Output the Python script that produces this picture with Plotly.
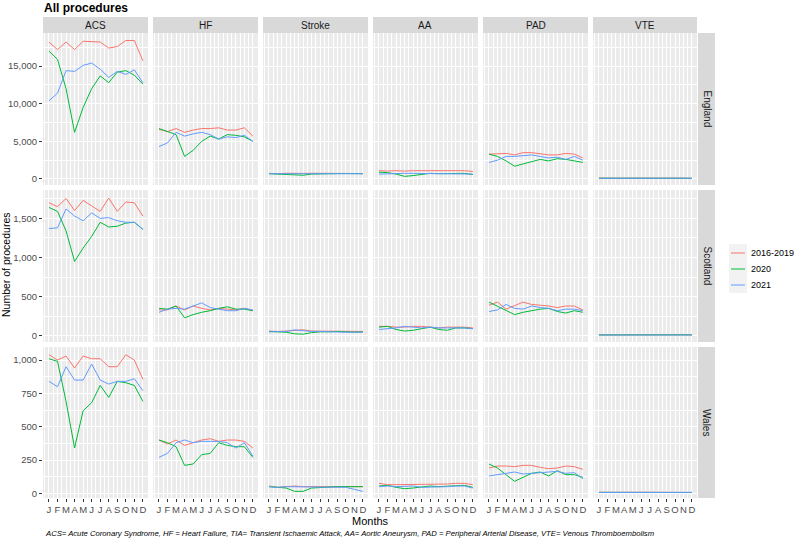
import plotly.graph_objects as go

W, H = 794, 539

months = list(range(1, 13))
month_labels = ["J", "F", "M", "A", "M", "J", "J", "A", "S", "O", "N", "D"]
procedures = ["ACS", "HF", "Stroke", "AA", "PAD", "VTE"]
countries = ["England", "Scotland", "Wales"]
series_names = ["2016-2019", "2020", "2021"]
series_colors = ["#F8766D", "#00BA38", "#619CFF"]

# ---------------- England ----------------
eng_acs_1619 = [18200, 17200, 18200, 17200, 18300, 18200, 18200, 17400, 17600, 18400, 18400, 15700]
eng_acs_2020 = [17000, 15900, 12000, 6200, 9500, 12000, 13700, 12800, 14200, 14400, 13800, 12600]
eng_acs_2021 = [10400, 11400, 14400, 14300, 15100, 15400, 14600, 13500, 14300, 13900, 14500, 12800]
eng_hf_1619 = [6600, 6300, 6700, 6200, 6500, 6700, 6700, 6800, 6500, 6500, 6800, 5700]
eng_hf_2020 = [6700, 6300, 5900, 3000, 3800, 5000, 5700, 5300, 5900, 5800, 5600, 5000]
eng_hf_2021 = [4300, 4800, 6200, 5700, 6000, 6200, 5900, 5300, 5600, 5500, 5800, 5000]
eng_stroke_1619 = [750, 700, 760, 720, 740, 760, 750, 740, 750, 760, 750, 720]
eng_stroke_2020 = [700, 650, 600, 450, 500, 650, 700, 720, 720, 730, 720, 700]
eng_stroke_2021 = [700, 700, 720, 700, 720, 720, 720, 730, 730, 720, 720, 700]
eng_aa_1619 = [1100, 1050, 1100, 1050, 1100, 1100, 1100, 1050, 1050, 1100, 1100, 1000]
eng_aa_2020 = [900, 850, 650, 350, 450, 650, 750, 700, 750, 700, 750, 600]
eng_aa_2021 = [650, 700, 750, 750, 750, 750, 700, 700, 750, 700, 750, 650]
eng_pad_1619 = [3300, 3300, 3400, 3200, 3500, 3500, 3300, 3200, 3200, 3400, 3300, 2800]
eng_pad_2020 = [3300, 3000, 2400, 1700, 2000, 2300, 2600, 2400, 2700, 2600, 2400, 2200]
eng_pad_2021 = [2200, 2500, 3000, 3000, 3100, 3200, 3000, 2800, 2900, 2600, 3000, 2500]
eng_vte_1619 = [110, 100, 110, 100, 110, 110, 110, 100, 100, 110, 110, 90]
eng_vte_2020 = [100, 100, 90, 60, 70, 90, 100, 100, 100, 100, 100, 90]
eng_vte_2021 = [90, 100, 100, 100, 100, 100, 100, 100, 100, 100, 100, 90]

# ---------------- Scotland ----------------
sco_acs_1619 = [1700, 1650, 1755, 1600, 1730, 1660, 1590, 1760, 1590, 1710, 1700, 1530]
sco_acs_2020 = [1640, 1590, 1340, 950, 1120, 1270, 1450, 1390, 1400, 1440, 1450, 1360]
sco_acs_2021 = [1370, 1380, 1620, 1530, 1470, 1570, 1500, 1510, 1470, 1450, 1450, 1360]
sco_hf_1619 = [330, 330, 380, 330, 380, 350, 330, 350, 340, 330, 350, 320]
sco_hf_2020 = [350, 340, 380, 230, 270, 300, 320, 350, 370, 340, 340, 320]
sco_hf_2021 = [300, 340, 350, 340, 380, 420, 360, 340, 320, 320, 350, 330]
sco_stroke_1619 = [60, 55, 60, 70, 75, 60, 60, 55, 55, 60, 60, 55]
sco_stroke_2020 = [55, 50, 45, 25, 20, 40, 50, 50, 55, 50, 45, 50]
sco_stroke_2021 = [50, 50, 55, 75, 65, 55, 55, 50, 50, 45, 45, 45]
sco_aa_1619 = [120, 120, 110, 110, 120, 120, 110, 100, 110, 110, 110, 100]
sco_aa_2020 = [110, 120, 80, 60, 70, 90, 110, 80, 70, 100, 100, 90]
sco_aa_2021 = [80, 90, 100, 120, 110, 100, 110, 100, 100, 100, 100, 90]
sco_pad_1619 = [390, 430, 340, 380, 430, 400, 390, 380, 360, 380, 380, 330]
sco_pad_2020 = [430, 380, 330, 270, 300, 320, 340, 350, 310, 290, 320, 300]
sco_pad_2021 = [310, 330, 400, 350, 340, 380, 360, 350, 320, 340, 340, 320]
sco_vte_1619 = [12, 10, 12, 10, 12, 12, 10, 10, 12, 12, 12, 10]
sco_vte_2020 = [10, 10, 8, 5, 5, 8, 10, 10, 10, 10, 12, 12]
sco_vte_2021 = [10, 12, 10, 10, 10, 10, 10, 10, 10, 10, 10, 10]

# ---------------- Wales ----------------
wal_acs_1619 = [1040, 1000, 1030, 940, 1030, 1010, 1010, 950, 950, 1040, 1000, 855]
wal_acs_2020 = [1010, 990, 690, 340, 620, 680, 810, 720, 840, 830, 810, 690]
wal_acs_2021 = [840, 800, 950, 850, 850, 970, 850, 820, 840, 840, 860, 770]
wal_hf_1619 = [400, 370, 400, 360, 380, 400, 410, 390, 400, 400, 390, 340]
wal_hf_2020 = [400, 380, 350, 210, 220, 290, 300, 380, 360, 350, 350, 270]
wal_hf_2021 = [270, 300, 380, 400, 380, 390, 390, 390, 380, 340, 380, 280]
wal_stroke_1619 = [55, 45, 50, 55, 50, 50, 50, 50, 55, 50, 50, 50]
wal_stroke_2020 = [50, 45, 40, 15, 15, 40, 45, 45, 50, 50, 50, 50]
wal_stroke_2021 = [50, 45, 50, 50, 50, 45, 50, 50, 50, 45, 30, 15]
wal_aa_1619 = [75, 65, 65, 65, 65, 70, 70, 70, 70, 75, 75, 65]
wal_aa_2020 = [55, 60, 45, 35, 40, 50, 55, 50, 55, 55, 60, 45]
wal_aa_2021 = [50, 55, 50, 50, 55, 45, 45, 50, 50, 55, 55, 40]
wal_pad_1619 = [190, 205, 205, 200, 210, 210, 195, 185, 190, 205, 200, 180]
wal_pad_2020 = [220, 190, 140, 90, 120, 150, 160, 130, 170, 140, 140, 120]
wal_pad_2021 = [130, 140, 155, 160, 145, 150, 150, 160, 165, 150, 155, 110]
wal_vte_1619 = [8, 7, 8, 7, 8, 8, 8, 7, 8, 8, 8, 7]
wal_vte_2020 = [7, 7, 6, 4, 5, 6, 7, 7, 7, 7, 7, 6]
wal_vte_2021 = [7, 7, 7, 7, 7, 7, 7, 7, 7, 7, 7, 7]

# y-axis settings per row (free scales per country)
row_ranges = [[-800, 19400], [-80, 1863], [-35, 1098]]
row_dtick = [5000, 500, 250]

data = {
    "England": [
        [eng_acs_1619, eng_acs_2020, eng_acs_2021],
        [eng_hf_1619, eng_hf_2020, eng_hf_2021],
        [eng_stroke_1619, eng_stroke_2020, eng_stroke_2021],
        [eng_aa_1619, eng_aa_2020, eng_aa_2021],
        [eng_pad_1619, eng_pad_2020, eng_pad_2021],
        [eng_vte_1619, eng_vte_2020, eng_vte_2021],
    ],
    "Scotland": [
        [sco_acs_1619, sco_acs_2020, sco_acs_2021],
        [sco_hf_1619, sco_hf_2020, sco_hf_2021],
        [sco_stroke_1619, sco_stroke_2020, sco_stroke_2021],
        [sco_aa_1619, sco_aa_2020, sco_aa_2021],
        [sco_pad_1619, sco_pad_2020, sco_pad_2021],
        [sco_vte_1619, sco_vte_2020, sco_vte_2021],
    ],
    "Wales": [
        [wal_acs_1619, wal_acs_2020, wal_acs_2021],
        [wal_hf_1619, wal_hf_2020, wal_hf_2021],
        [wal_stroke_1619, wal_stroke_2020, wal_stroke_2021],
        [wal_aa_1619, wal_aa_2020, wal_aa_2021],
        [wal_pad_1619, wal_pad_2020, wal_pad_2021],
        [wal_vte_1619, wal_vte_2020, wal_vte_2021],
    ],
}

# pixel layout of the facet grid
col_px = [(43, 148), (153, 258), (263, 368), (373, 478), (483, 588), (593, 697)]
row_px = [(33, 185), (190, 342), (347, 498)]
strip_top = 17
row_strip = (698, 715)

FONT = "Liberation Sans, Arial, sans-serif"
fig = go.Figure()
layout = {}
shapes = []
annotations = []

def px_x(x):
    return x / W

def px_y(y):
    return 1 - y / H

for r, country in enumerate(countries):
    for c, proc in enumerate(procedures):
        k = r * 6 + c + 1
        xa = "x" if k == 1 else f"x{k}"
        ya = "y" if k == 1 else f"y{k}"
        for s in range(3):
            fig.add_trace(go.Scatter(
                x=months, y=data[country][c][s], mode="lines",
                line=dict(color=series_colors[s], width=1),
                name=series_names[s], legendgroup=series_names[s],
                showlegend=False, xaxis=xa, yaxis=ya,
                hovertemplate=f"{country} {proc}<br>%{{x}}: %{{y}}<extra>{series_names[s]}</extra>",
            ))
        x0, x1 = col_px[c]
        y0, y1 = row_px[r]
        bottom = (r == 2)
        left = (c == 0)
        layout["xaxis" if k == 1 else f"xaxis{k}"] = dict(
            domain=[px_x(x0), px_x(x1)], anchor=ya, range=[0.3, 12.6],
            tickmode="array", tickvals=months, ticktext=month_labels, tickangle=0,
            showticklabels=bottom, ticks="outside" if bottom else "",
            ticklen=3, tickcolor="#333333", tickwidth=1,
            tickfont=dict(size=9.5, color="#4D4D4D", family=FONT),
            showgrid=True, gridcolor="white", gridwidth=1,
            minor=dict(tickmode="linear", tick0=0.5, dtick=1, showgrid=True,
                       gridcolor="white", gridwidth=0.5, ticks=""),
            zeroline=False, showline=False, fixedrange=True, automargin=False,
        )
        layout["yaxis" if k == 1 else f"yaxis{k}"] = dict(
            domain=[px_y(y1), px_y(y0)], anchor=xa, range=row_ranges[r],
            tick0=0, dtick=row_dtick[r], tickformat=",",
            showticklabels=left, ticks="outside" if left else "",
            ticklen=3, tickcolor="#333333", tickwidth=1,
            tickfont=dict(size=9.5, color="#4D4D4D", family=FONT),
            showgrid=True, gridcolor="white", gridwidth=1,
            minor=dict(tick0=row_dtick[r] / 2, dtick=row_dtick[r], showgrid=True,
                       gridcolor="white", gridwidth=0.5, ticks=""),
            zeroline=False, showline=False, fixedrange=True, automargin=False,
        )

# column strips
for c, proc in enumerate(procedures):
    x0, x1 = col_px[c]
    shapes.append(dict(type="rect", xref="paper", yref="paper",
                       x0=px_x(x0), x1=px_x(x1), y0=px_y(row_px[0][0]), y1=px_y(strip_top),
                       fillcolor="#D9D9D9", line=dict(width=0), layer="below"))
    annotations.append(dict(text=proc, xref="paper", yref="paper",
                            x=px_x((x0 + x1) / 2), y=px_y((strip_top + row_px[0][0]) / 2),
                            showarrow=False, font=dict(size=10, color="#1A1A1A", family=FONT),
                            xanchor="center", yanchor="middle"))
# row strips
for r, country in enumerate(countries):
    y0, y1 = row_px[r]
    shapes.append(dict(type="rect", xref="paper", yref="paper",
                       x0=px_x(row_strip[0]), x1=px_x(row_strip[1]), y0=px_y(y1), y1=px_y(y0),
                       fillcolor="#D9D9D9", line=dict(width=0), layer="below"))
    annotations.append(dict(text=country, xref="paper", yref="paper",
                            x=px_x((row_strip[0] + row_strip[1]) / 2), y=px_y((y0 + y1) / 2),
                            showarrow=False, textangle=90,
                            font=dict(size=10, color="#1A1A1A", family=FONT),
                            xanchor="center", yanchor="middle"))

# legend (ggplot-style keys drawn at the right)
legend_y = [253, 269, 285]
shapes.append(dict(type="rect", xref="paper", yref="paper",
                   x0=px_x(729), x1=px_x(747), y0=px_y(293), y1=px_y(244),
                   fillcolor="#F2F2F2", line=dict(width=0), layer="below"))
for s in range(3):
    shapes.append(dict(type="line", xref="paper", yref="paper",
                       x0=px_x(731), x1=px_x(745), y0=px_y(legend_y[s]), y1=px_y(legend_y[s]),
                       line=dict(color=series_colors[s], width=1)))
    annotations.append(dict(text=series_names[s], xref="paper", yref="paper",
                            x=px_x(750), y=px_y(legend_y[s]), xanchor="left", yanchor="middle",
                            showarrow=False, borderpad=0,
                            font=dict(size=9, color="#000000", family=FONT)))

# titles
annotations.append(dict(text="<b>All procedures</b>", xref="paper", yref="paper",
                        x=px_x(42), y=px_y(8), xanchor="left", yanchor="middle", showarrow=False,
                        font=dict(size=12, color="#000000", family=FONT)))
annotations.append(dict(text="Months", xref="paper", yref="paper",
                        x=px_x(370), y=px_y(521), xanchor="center", yanchor="middle", showarrow=False,
                        font=dict(size=11, color="#000000", family=FONT)))
annotations.append(dict(text="Number of procedures", xref="paper", yref="paper",
                        x=px_x(6), y=px_y(265), xanchor="center", yanchor="middle", showarrow=False,
                        textangle=-90, font=dict(size=10.5, color="#000000", family=FONT)))
annotations.append(dict(text="<i>ACS= Acute Coronary Syndrome, HF = Heart Failure, TIA= Transient Ischaemic Attack, AA= Aortic Aneurysm, PAD = Peripheral Arterial Disease, VTE= Venous Thromboembolism</i>",
                        xref="paper", yref="paper",
                        x=px_x(43), y=px_y(533), xanchor="left", yanchor="middle", showarrow=False,
                        font=dict(size=7.7, color="#000000", family=FONT)))

fig.update_layout(
    width=W, height=H,
    margin=dict(l=0, r=0, t=0, b=0, autoexpand=False),
    paper_bgcolor="white", plot_bgcolor="#EBEBEB",
    font=dict(family=FONT, size=10, color="#000000"),
    showlegend=False,
    shapes=shapes, annotations=annotations,
    **layout,
)

fig.write_html("out.html", config={"displayModeBar": False},
               post_script="document.body.style.margin='0';document.body.style.overflow='hidden';")
